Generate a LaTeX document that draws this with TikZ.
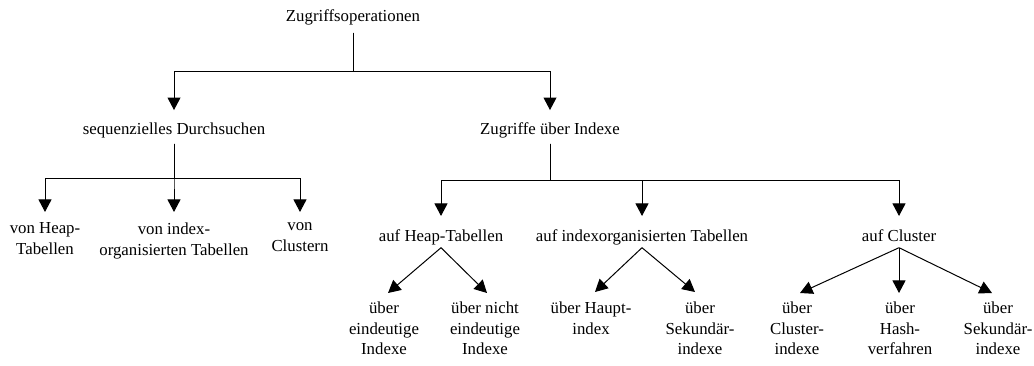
\documentclass[tikz,border=0pt]{standalone}
\usepackage{fontspec}
\setmainfont{Liberation Serif}
\usetikzlibrary{arrows.meta,calc}
\begin{document}
\begin{tikzpicture}[x=0.75pt,y=-0.75pt,
  lbl/.style={inner sep=0pt, anchor=north, align=center,
    font=\fontsize{12.6pt}{15.5pt}\selectfont,
    execute at begin node=\strut, execute at end node=\strut},
  wire/.style={line width=0.75pt},
  arr/.style={wire,-{Triangle[width=9.75pt,length=9.4pt]}},
]
\useasboundingbox (0,0) rectangle (1034,365);

% root and first level
\node[lbl] (root) at (353,6.5) {Zugriffsoperationen};
\node[lbl] (seq)  at (174,119.5) {sequenzielles Durchsuchen};
\node[lbl] (zui)  at (550,119.5) {Zugriffe über Indexe};

% sequential scan
\node[lbl] (vh) at (45,222.5)  {von Heap-\\Tabellen};
\node[lbl] (vi) at (174,222.5) {von index-\\organisierten Tabellen};
\node[lbl] (vc) at (300,222.5) {von\\Clustern};

% access via indexes
\node[lbl] (ah) at (441,226.5) {auf Heap-Tabellen};
\node[lbl] (ai) at (642,226.5) {auf indexorganisierten Tabellen};
\node[lbl] (ac) at (899,226.5) {auf Cluster};

% leaves
\node[lbl] (u1) at (384,301.5) {über\\eindeutige\\Indexe};
\node[lbl] (u2) at (485,301.5) {über nicht\\eindeutige\\Indexe};
\node[lbl] (u3) at (591,301.5) {über Haupt-\\index};
\node[lbl] (u4) at (700,301.5) {über\\Sekundär-\\indexe};
\node[lbl] (u5) at (797,301.5) {über\\Cluster-\\indexe};
\node[lbl] (u6) at (900,301.5) {über\\Hash-\\verfahren};
\node[lbl] (u7) at (998,301.5) {über\\Sekundär-\\indexe};

% orthogonal tree connectors
\foreach \c in {seq,zui}
  \draw[arr, shorten <=3.6pt, shorten >=7.1pt] (root.south) -- ++(0,43.8) -| (\c.north);
\foreach \c in {vh,vi,vc}
  \draw[arr, shorten <=2.1pt, shorten >=7.9pt] (seq.south) -- ++(0,37.8) -| (\c.north);
\foreach \c in {ah,ai,ac}
  \draw[arr, shorten <=2.1pt, shorten >=7.9pt] (zui.south) -- ++(0,39.8) -| (\c.north);

% diagonal connectors
\draw[arr] (ah.south) -- ($(u1.north)+(4,-8.5)$);
\draw[arr] (ah.south) -- ($(u2.north)+(2,-8.5)$);
\draw[arr] (ai.south) -- ($(u3.north)+(4,-9.5)$);
\draw[arr] (ai.south) -- ($(u4.north)+(-5,-9.5)$);
\draw[arr] (ac.south) -- ($(u5.north)+(3,-8.5)$);
\draw[arr] (ac.south) -- ($(u6.north)+(-1,-8.5)$);
\draw[arr] (ac.south) -- ($(u7.north)+(-6,-8.5)$);
\end{tikzpicture}
\end{document}
